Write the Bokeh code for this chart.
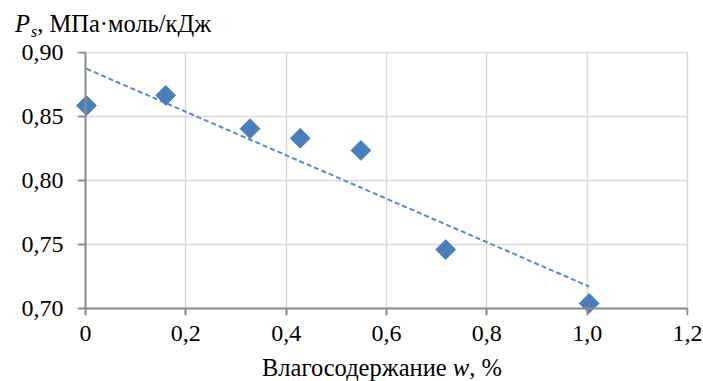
import numpy as np
from bokeh.plotting import figure
from bokeh.layouts import column
from bokeh.models import (Div, FixedTicker, CustomJSTickFormatter, Range1d, ColumnDataSource,
                          LinearAxis)
from bokeh.embed import file_html
from bokeh.resources import INLINE

# data
w_values = [0.002, 0.16, 0.328, 0.428, 0.549, 0.718, 1.004]
ps_values = [0.8585, 0.8665, 0.8405, 0.833, 0.8235, 0.746, 0.704]
x_ticks = [0, 0.2, 0.4, 0.6, 0.8, 1.0, 1.2]
y_ticks = [0.70, 0.75, 0.80, 0.85, 0.90]

FONT = "Liberation Serif"
AXIS_COLOR = "#8c8c8c"
GRID_COLOR = "#d9d9d9"
MARKER_COLOR = "#4a7ebb"
TREND_COLOR = "#5588d8"

# small extra room round the axes so that markers sitting on the axes are not clipped
XS = 602 / (x_ticks[-1] - x_ticks[0])   # px per x unit
YS = 256 / (y_ticks[-1] - y_ticks[0])   # px per y unit

p = figure(width=703, height=319, output_backend="svg", toolbar_location=None,
           x_range=Range1d(x_ticks[0] - 10 / XS, x_ticks[-1] + 1 / XS),
           y_range=Range1d(y_ticks[0] - 7 / YS, y_ticks[-1] + 1 / YS),
           min_border_left=75, min_border_right=15, min_border_top=11, min_border_bottom=44)
p.outline_line_color = None
p.background_fill_color = "white"
p.border_fill_color = "white"

# grids
p.xgrid.ticker = FixedTicker(ticks=x_ticks)
p.ygrid.ticker = FixedTicker(ticks=y_ticks)
for g in (p.xgrid, p.ygrid):
    g.grid_line_color = GRID_COLOR
    g.grid_line_width = 1.5

# label-only axes at the frame edges
p.xaxis.ticker = FixedTicker(ticks=x_ticks)
p.yaxis.ticker = FixedTicker(ticks=y_ticks)
p.xaxis.formatter = CustomJSTickFormatter(code="return tick == 0 ? '0' : tick.toFixed(1).replace('.', ',');")
p.yaxis.formatter = CustomJSTickFormatter(code="return tick.toFixed(2).replace('.', ',');")
for ax in (p.xaxis, p.yaxis):
    ax.axis_line_color = None
    ax.major_tick_line_color = None
    ax.minor_tick_line_color = None
    ax.major_tick_in = 0
    ax.major_tick_out = 0
    ax.major_label_text_font = FONT
    ax.major_label_text_font_size = "24px"
    ax.major_label_text_color = "black"
p.xaxis.major_label_standoff = 10
p.yaxis.major_label_standoff = 12

# axis lines + ticks drawn at x = 0 and y = 0.70 (ticks pointing outwards)
empty = CustomJSTickFormatter(code="return '';")
x_line_axis = LinearAxis(fixed_location=y_ticks[0], ticker=FixedTicker(ticks=x_ticks),
                         bounds=(x_ticks[0], x_ticks[-1]), formatter=empty)
y_line_axis = LinearAxis(fixed_location=x_ticks[0], ticker=FixedTicker(ticks=y_ticks),
                         bounds=(y_ticks[0], y_ticks[-1]), formatter=empty)
for ax in (x_line_axis, y_line_axis):
    ax.axis_line_color = AXIS_COLOR
    ax.axis_line_width = 2
    ax.major_tick_line_color = AXIS_COLOR
    ax.major_tick_line_width = 2
    ax.major_tick_in = 7
    ax.major_tick_out = 0
    ax.minor_tick_line_color = None
    ax.major_label_text_font_size = "0px"
    ax.major_label_standoff = 0
p.add_layout(x_line_axis, "above")
p.add_layout(y_line_axis, "right")

# trend line (least squares fit of the data)
slope, intercept = np.polyfit(w_values, ps_values, 1)
tx = [min(w_values), max(w_values)]
ty = [slope * v + intercept for v in tx]
p.line(tx, ty, line_color=TREND_COLOR, line_width=2, line_dash="5 3")

# points
src = ColumnDataSource(dict(w=w_values, ps=ps_values))
p.scatter("w", "ps", source=src, marker="square", size=14, angle=np.pi / 4,
          fill_color=MARKER_COLOR, line_color=MARKER_COLOR, line_width=1)

# y-axis title above the plot: P_s, МПа·моль/кДж
title_div = Div(
    text=(f'<div style="margin-left:15px; margin-top:12px; font-family:\'{FONT}\'; '
          'font-size:24.5px; line-height:24px; color:black; white-space:nowrap;">'
          '<i>P</i><span style="font-size:16px; font-style:italic; position:relative; '
          'top:5px; margin-left:1px;">s</span>, МПа·моль/кДж</div>'),
    width=703, height=40, margin=0)

# x-axis title below the plot: Влагосодержание w, %
xlabel_div = Div(
    text=(f'<div style="margin-left:262px; margin-top:0px; font-family:\'{FONT}\'; '
          'font-size:24.5px; line-height:17px; color:black; white-space:nowrap;">'
          'Влагосодержание <i>w</i>, %</div>'),
    width=703, height=22, margin=0)

layout = column(title_div, p, xlabel_div, spacing=0)

open("out.html", "w").write(file_html(layout, INLINE))
